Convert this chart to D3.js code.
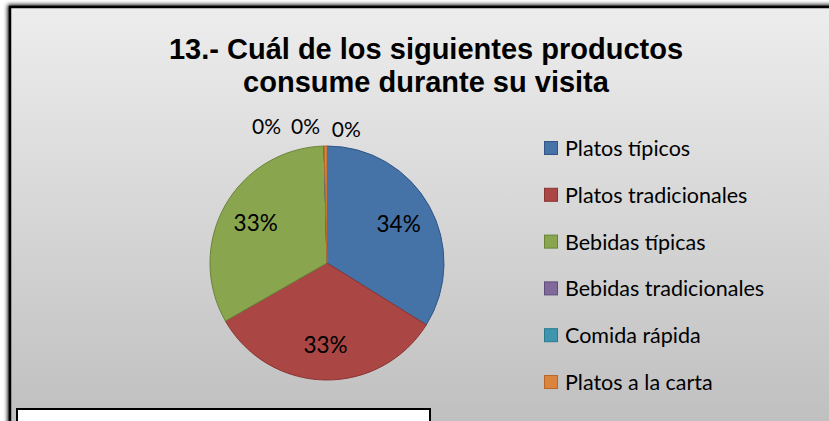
<!DOCTYPE html>
<html><head><meta charset="utf-8">
<script src="https://cdn.jsdelivr.net/npm/d3@7"></script>
<style>html,body{margin:0;padding:0;background:#fff;overflow:hidden}</style>
</head><body>
<svg id="c" width="829" height="421"></svg>
<script>
const titleLines = ["13.- Cuál de los siguientes productos", "consume durante su visita"];
const categories = ["Platos típicos","Platos tradicionales","Bebidas típicas","Bebidas tradicionales","Comida rápida","Platos a la carta"];
const values = [34, 33, 33, 0, 0, 0.4];
const labels = ["34%","33%","33%","0%","0%","0%"];
const colors = ["#4572A7","#AA4643","#89A54E","#80699B","#3D96AE","#DB843D"];
const strokes = ["#2f5687","#8a3532","#6a8439","#5f4c7a","#2a7a90","#b8682a"];

const svg = d3.select("#c");
const defs = svg.append("defs");
const g = defs.append("linearGradient").attr("id","bg").attr("x1",0).attr("y1",0).attr("x2",0).attr("y2",1);
g.append("stop").attr("offset","0%").attr("stop-color","#ededed");
g.append("stop").attr("offset","100%").attr("stop-color","#bdbdbd");
const f = defs.append("filter").attr("id","sh").attr("x","-5%").attr("y","-5%").attr("width","110%").attr("height","110%");
f.append("feGaussianBlur").attr("in","SourceAlpha").attr("stdDeviation",2);
f.append("feOffset").attr("dx",-1).attr("dy",-1).attr("result","b");
const fm = f.append("feMerge"); fm.append("feMergeNode").attr("in","b"); fm.append("feMergeNode").attr("in","SourceGraphic");

// chart frame
svg.append("rect").attr("x",10).attr("y",7).attr("width",840).attr("height",440)
  .attr("fill","url(#bg)").attr("stroke","#000").attr("stroke-width",2.5)
  .style("filter","url(#sh)");

// title
svg.append("text").attr("text-anchor","middle")
  .attr("font-family","Liberation Sans, Arial, sans-serif").attr("font-weight","bold")
  .attr("font-size",29).attr("fill","#000")
  .selectAll("tspan").data(titleLines).join("tspan")
  .attr("x",426).attr("y",(d,i)=>59+i*33).text(d=>d);

// pie
const cx = 327, cy = 263, R = 117;
const pie = d3.pie().sort(null).value(d=>d)(values);
const arc = d3.arc().innerRadius(0).outerRadius(R);
const pg = svg.append("g").attr("transform",`translate(${cx},${cy})`);
pg.selectAll("path").data(pie).join("path")
  .attr("d",arc).attr("fill",(d,i)=>colors[i]).attr("stroke",(d,i)=>strokes[i]).attr("stroke-width",1)
  .attr("stroke-linejoin","round");

const lblArc = d3.arc().innerRadius(R*0.7).outerRadius(R*0.7);
const outArc = d3.arc().innerRadius(R+18).outerRadius(R+18);
const lf = "Lato, 'Open Sans', sans-serif";
pg.selectAll("text.v").data(pie).join("text").attr("class","v")
  .attr("font-family",lf).attr("font-size",(d,i)=>values[i] >= 5 ? 22.5 : 21).attr("fill","#000").attr("text-anchor","middle")
  .attr("dominant-baseline","central")
  .attr("transform",(d,i)=>{
    if (values[i] >= 5) { const c = lblArc.centroid(d); return `translate(${c[0]},${c[1]})`; }
    const c = outArc.centroid(d);
    const shift = (values.length-1-i)*39;
    return `translate(${c[0]+21-shift},${c[1]-(i<5?3:0)})`;
  })
  .text((d,i)=>labels[i]);

// legend
const ly = d3.scalePoint().domain(categories).range([148,382]);
const lg = svg.append("g");
const items = lg.selectAll("g").data(categories).join("g").attr("transform",d=>`translate(544,${ly(d)})`);
items.append("rect").attr("x",0.5).attr("y",-6.5).attr("width",13).attr("height",13)
  .attr("fill",(d,i)=>colors[i]).attr("stroke",(d,i)=>strokes[i]).attr("stroke-width",1);
items.append("text").attr("x",21).attr("y",0).attr("dominant-baseline","central")
  .attr("font-family",lf).attr("font-size",21.5).attr("fill","#000").text(d=>d);

// white box at bottom
svg.append("rect").attr("x",17).attr("y",409).attr("width",413).attr("height",40)
  .attr("fill","#fff").attr("stroke","#000").attr("stroke-width",2);
</script>
</body></html>
